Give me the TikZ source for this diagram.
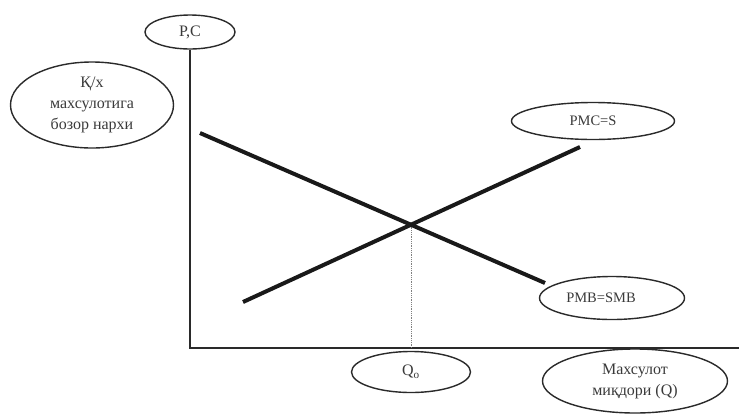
\documentclass[tikz,border=0pt]{standalone}
\usepackage{fontspec}
\setmainfont{Liberation Serif}
\usetikzlibrary{shapes.geometric,intersections}
\definecolor{ink}{HTML}{2A2A2A}
\definecolor{txt}{HTML}{3A3A3A}
\begin{document}
\begin{tikzpicture}[x=1pt,y=-1pt,
  lbl/.style={draw=ink,line width=1.4pt,ellipse,inner sep=0pt,text=txt,
    font=\fontsize{16}{21}\selectfont,align=center},
  small/.style={font=\fontsize{14.5}{18}\selectfont},
  axisline/.style={draw=ink,line width=1.6pt},
  curve/.style={draw=black!90,line width=4pt},
  guide/.style={draw=gray,line width=0.8pt,densely dotted}]
\useasboundingbox (0,0) rectangle (739,416);
\fill[white] (0,0) rectangle (739,416);
% labels
\node[lbl,minimum width=90pt,minimum height=34pt] (pc) at (190,32) {P,C};
\node[lbl,minimum width=163pt,minimum height=86pt] (price) at (92,105) {Қ/х\\махсулотига\\бозор нархи};
\node[lbl,small,minimum width=163pt,minimum height=37pt] (pmc) at (593,121) {PMC=S};
\node[lbl,small,minimum width=145pt,minimum height=43pt] (pmb) at (612,298) {\hspace*{-22pt}PMB=SMB};
\node[lbl,minimum width=119pt,minimum height=41pt] (q0) at (411,372) {Q$_\mathrm{o}$};
\node[lbl,minimum width=185pt,minimum height=64pt] (qty) at (635,381) {Махсулот\\миқдори (Q)};
% axes
\coordinate (origin) at (190,348);
\coordinate (xend) at (739,348);
\draw[axisline] (pc.south) -- (origin) -- (xend);
% curves
\coordinate (d1) at (200,133);
\coordinate (d2) at (545,283);
\coordinate (s1) at (243,302);
\coordinate (s2) at (580,147);
\path[name path=dem] (d1) -- (d2);
\path[name path=sup] (s1) -- (s2);
\path[name intersections={of=dem and sup,by=eq}];
\coordinate (qfoot) at (eq |- origin);
\draw[guide] (eq) -- (qfoot);
\draw[curve] (d1) -- (d2);
\draw[curve] (s1) -- (s2);
\end{tikzpicture}
\end{document}
